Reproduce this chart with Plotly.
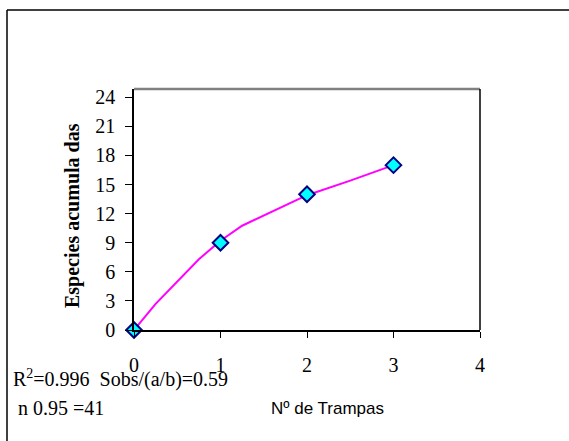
import plotly.graph_objects as go

# observed data (cumulative species vs number of traps)
traps = [0, 1, 2, 3]
species = [0, 9, 14, 17]

# fitted accumulation curve
curve_x = [0, 0.25, 0.75, 1, 1.25, 2, 2.5, 3]
curve_y = [0, 2.7, 7.3, 9.2, 10.75, 13.9, 15.4, 17.0]

x_ticks = [0, 1, 2, 3, 4]
y_ticks = [0, 3, 6, 9, 12, 15, 18, 21, 24]

W, H = 569, 441
L, R, T, B = 134, 480, 89, 330
pw, ph = R - L, B - T


def px(x):
    return (x - L) / pw


def py(y):
    return (B - y) / ph


fig = go.Figure()
fig.add_trace(go.Scatter(x=curve_x, y=curve_y, mode="lines",
                         line=dict(color="#FF00FF", width=2),
                         hoverinfo="skip", showlegend=False))
fig.add_trace(go.Scatter(x=traps, y=species, mode="markers",
                         marker=dict(symbol="diamond", size=12, color="#00FFFF",
                                     line=dict(color="#000080", width=2)),
                         cliponaxis=False, showlegend=False))

serif = "Liberation Serif, Times New Roman, serif"
sans = "Liberation Sans, Arial, sans-serif"

fig.update_layout(
    width=W, height=H,
    margin=dict(l=L, r=W - R, t=T, b=H - B, pad=0),
    paper_bgcolor="white", plot_bgcolor="white",
    xaxis=dict(range=[0, 4], tickvals=x_ticks, ticks="outside", ticklen=6,
               tickcolor="black", tickwidth=1, showline=True, linecolor="black",
               linewidth=2, showgrid=False, zeroline=False,
               tickfont=dict(family=serif, size=20, color="black"),
               ticklabelstandoff=10),
    yaxis=dict(range=[0, 24.85], tickvals=y_ticks, ticks="outside", ticklen=7,
               tickcolor="black", tickwidth=1, showline=True, linecolor="black",
               linewidth=1.5, showgrid=False, zeroline=False,
               tickfont=dict(family=serif, size=20, color="black"),
               ticklabelstandoff=6),
    shapes=[
        # plot area top (grey) and right border
        dict(type="line", xref="paper", yref="paper", x0=0, x1=1, y0=1, y1=1,
             line=dict(color="#808080", width=2.5)),
        dict(type="line", xref="paper", yref="paper", x0=1, x1=1, y0=0, y1=1,
             line=dict(color="black", width=1.5)),
        # outer chart frame (cut at right / bottom)
        dict(type="line", xref="paper", yref="paper", x0=px(7), x1=px(W + 5),
             y0=py(10), y1=py(10), line=dict(color="black", width=1.5)),
        dict(type="line", xref="paper", yref="paper", x0=px(7), x1=px(7),
             y0=py(10), y1=py(H + 5), line=dict(color="black", width=1.5)),
    ],
    annotations=[
        dict(text="<b>Especies acumula das</b>", xref="paper", yref="paper",
             x=px(72), y=py(216), textangle=-90, showarrow=False,
             xanchor="center", yanchor="middle",
             font=dict(family=serif, size=20, color="black")),
        dict(text="R<sup>2</sup>=0.996  Sobs/(a/b)=0.59", xref="paper", yref="paper",
             x=px(11), y=py(378), showarrow=False, xanchor="left", yanchor="middle",
             font=dict(family=serif, size=20, color="black")),
        dict(text="n 0.95 =41", xref="paper", yref="paper",
             x=px(16), y=py(408), showarrow=False, xanchor="left", yanchor="middle",
             font=dict(family=serif, size=20, color="black")),
        dict(text="Nº de Trampas", xref="paper", yref="paper",
             x=px(327), y=py(408), showarrow=False, xanchor="center", yanchor="middle",
             font=dict(family=sans, size=17, color="black")),
    ],
)

fig.write_html("out.html")
